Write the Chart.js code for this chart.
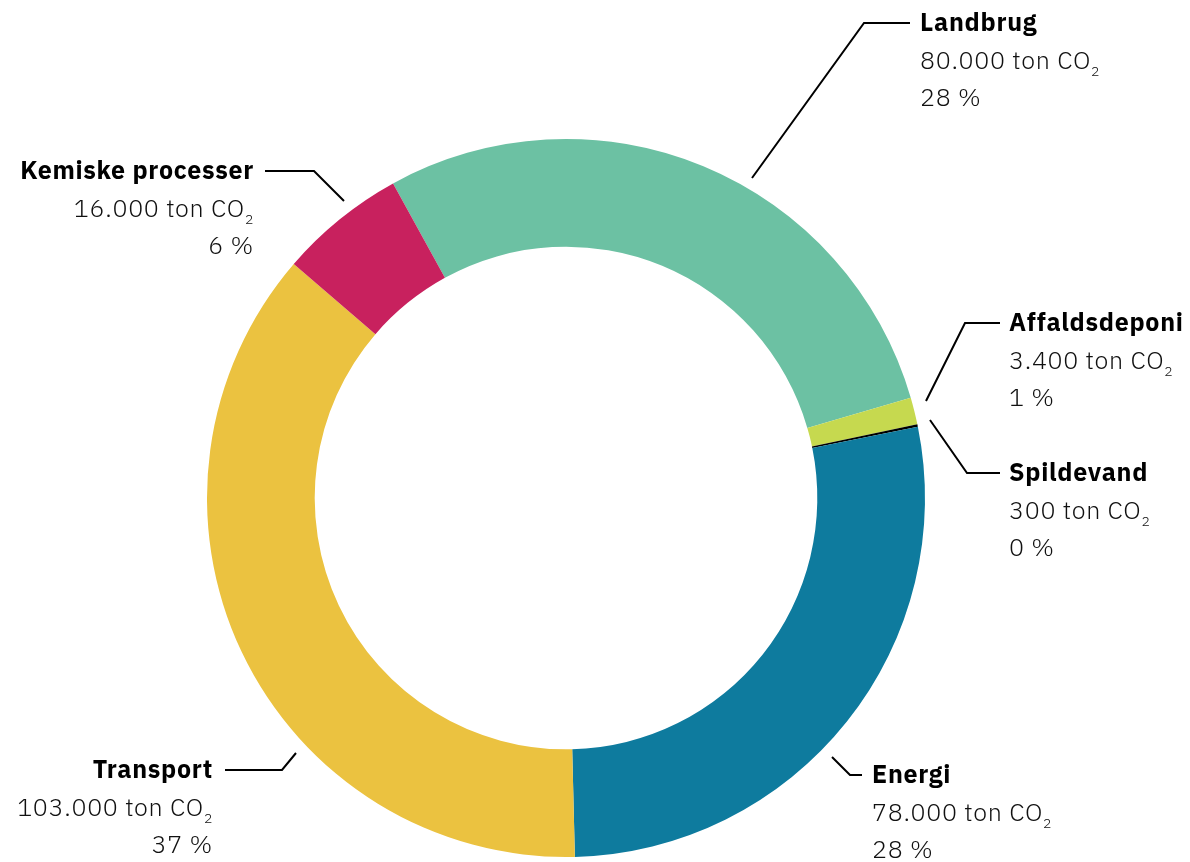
<!DOCTYPE html>
<html>
<head>
<meta charset="utf-8">
<script src="https://cdn.jsdelivr.net/npm/chart.js@4/dist/chart.umd.min.js"></script>
<style>
  html, body { margin: 0; padding: 0; background: #fff; }
  #wrap { width: 1190px; height: 862px; position: relative; }
</style>
</head>
<body>
<div id="wrap"><canvas id="chart"></canvas></div>
<script>
// Udledning fordelt på sektorer (ton CO2)
const categories = ['Landbrug', 'Affaldsdeponi', 'Spildevand', 'Energi', 'Transport', 'Kemiske processer'];
const emissions = [80000, 3400, 300, 78000, 103000, 16000];
const shareLabels = ['28 %', '1 %', '0 %', '28 %', '37 %', '6 %'];
const sliceColors = ['#6CC1A3', '#C6D94F', '#000000', '#0E7B9E', '#EBC240', '#C8215E'];

// Leader line routes and text anchors (layout only)
const labelLayout = [
  { path: [[752, 178], [864, 23], [910, 23]], x: 920, align: 'left' },
  { path: [[926, 401], [965, 323], [1000, 323]], x: 1009, align: 'left' },
  { path: [[930, 420], [967, 473], [1000, 473]], x: 1009, align: 'left' },
  { path: [[832, 757], [850, 775], [862, 775]], x: 872, align: 'left' },
  { path: [[296, 753], [282, 770], [225, 770]], x: 213, align: 'right' },
  { path: [[344, 201], [314, 171], [265, 171]], x: 254, align: 'right' }
];

const FONT = '"IBM Plex Sans", "Noto Sans", sans-serif';
const FONT_SIZE = 25;
const SPACING = '0.7px';
const LINE_GAP = 37.5;

function formatTons(v) {
  return String(v).replace(/\B(?=(\d{3})+(?!\d))/g, '.');
}

const calloutPlugin = {
  id: 'callouts',
  afterDraw(chart) {
    const ctx = chart.ctx;
    ctx.save();
    labelLayout.forEach((lay, i) => {
      // leader line
      ctx.beginPath();
      ctx.strokeStyle = '#000';
      ctx.lineWidth = 2;
      ctx.lineJoin = 'miter';
      lay.path.forEach((p, k) => k === 0 ? ctx.moveTo(p[0], p[1]) : ctx.lineTo(p[0], p[1]));
      ctx.stroke();

      const y0 = lay.path[lay.path.length - 1][1] + 8;
      ctx.textBaseline = 'alphabetic';
      ctx.letterSpacing = SPACING;

      // name
      ctx.font = `700 ${FONT_SIZE}px ${FONT}`;
      ctx.fillStyle = '#000';
      const wName = ctx.measureText(categories[i]).width;
      ctx.textAlign = 'left';
      ctx.fillText(categories[i], lay.align === 'left' ? lay.x : lay.x - wName, y0);

      // value line with subscript 2
      const main = `${formatTons(emissions[i])} ton CO`;
      ctx.font = `300 ${FONT_SIZE}px ${FONT}`;
      const wMain = ctx.measureText(main).width;
      ctx.font = `300 14px ${FONT}`;
      const wSub = ctx.measureText('2').width;
      const subGap = 0;
      const startX = lay.align === 'left' ? lay.x : lay.x - (wMain + subGap + wSub);
      ctx.fillStyle = '#111';
      ctx.font = `300 ${FONT_SIZE}px ${FONT}`;
      ctx.fillText(main, startX, y0 + LINE_GAP);
      ctx.font = `300 14px ${FONT}`;
      ctx.fillText('2', startX + wMain + subGap, y0 + LINE_GAP + 7);

      // share
      ctx.font = `300 ${FONT_SIZE}px ${FONT}`;
      const wShare = ctx.measureText(shareLabels[i]).width;
      ctx.fillText(shareLabels[i], lay.align === 'left' ? lay.x : lay.x - wShare, y0 + LINE_GAP * 2);
    });
    ctx.restore();
  }
};

new Chart(document.getElementById('chart'), {
  type: 'doughnut',
  plugins: [calloutPlugin],
  data: {
    labels: categories,
    datasets: [{
      data: emissions,
      backgroundColor: sliceColors,
      borderWidth: 0,
      hoverOffset: 0
    }]
  },
  options: {
    responsive: true,
    maintainAspectRatio: false,
    animation: false,
    rotation: -28.8,
    cutout: '70%',
    layout: {
      padding: { left: 207, right: 265, top: 139, bottom: 5 }
    },
    plugins: {
      legend: { display: false },
      tooltip: { enabled: false }
    }
  }
});
</script>
</body>
</html>
